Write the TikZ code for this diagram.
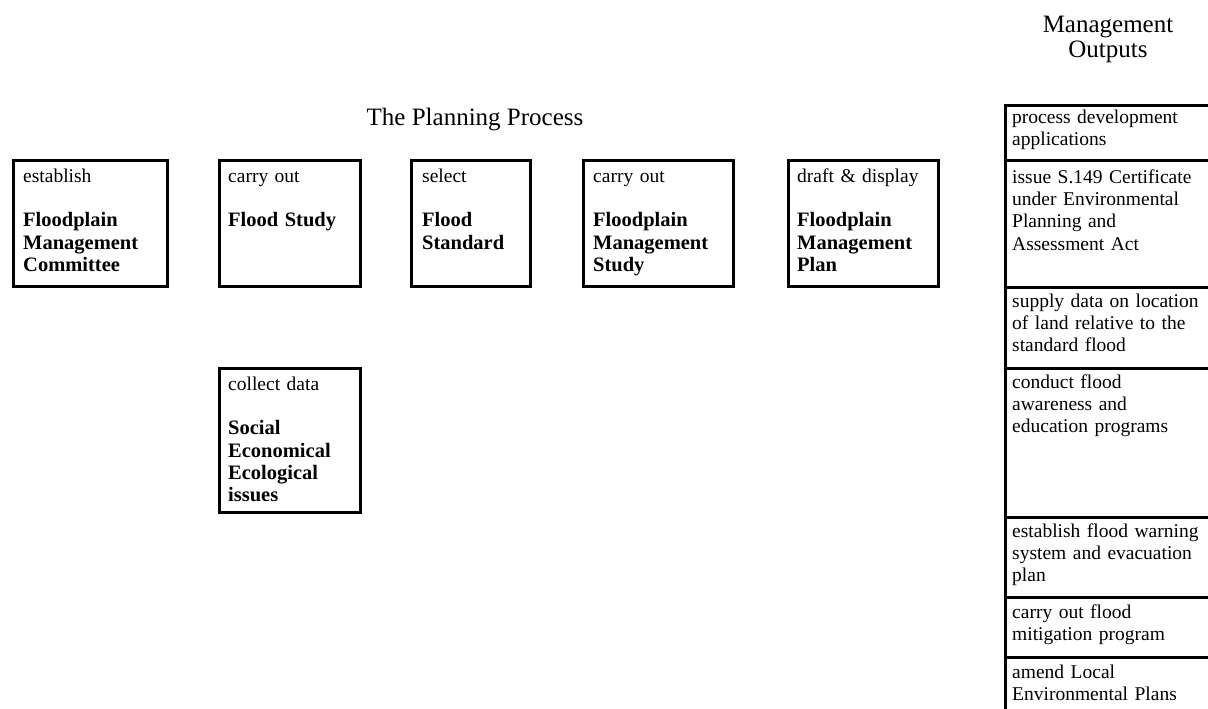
\documentclass[tikz,border=0pt]{standalone}
\usepackage{fontspec}
\setmainfont{Liberation Serif}
\newcommand\bhead[1]{{\fontsize{20.5}{22.3}\selectfont\bfseries #1}}
\begin{document}
\begin{tikzpicture}[x=1pt,y=-1pt,
  box/.style={draw, line width=3.2pt, inner sep=0pt, anchor=north west},
  txt/.style={anchor=north west, inner sep=0pt, text width=220pt, align=left,
              font=\fontsize{19.5}{22.3}\selectfont},
  ttl/.style={inner sep=0pt, align=center, font=\fontsize{25}{25}\selectfont}]
\useasboundingbox (0,0) rectangle (1208,709);

% titles
\node[ttl, anchor=base] (ptitle) at (475,125) {The Planning Process};
\node[ttl, anchor=north] (otitle) at (1108,14.5) {\strut Management\\Outputs};

% planning process boxes
\node[box, minimum width=154pt, minimum height=126pt] (b1) at (11.5,158.5) {};
\node[box, minimum width=141pt, minimum height=126pt] (b2) at (217.5,158.5) {};
\node[box, minimum width=119pt, minimum height=126pt] (b3) at (409.5,158.5) {};
\node[box, minimum width=150pt, minimum height=126pt] (b4) at (581.5,158.5) {};
\node[box, minimum width=150pt, minimum height=126pt] (b5) at (786.5,158.5) {};
\node[box, minimum width=141pt, minimum height=144pt] (b6) at (217.5,366.5) {};

\node[txt] (t1) at (23,166.4) {\strut establish\\[22.3pt]\bhead{Floodplain\\Management\\Committee}};
\node[txt] (t2) at (228,166.4) {\strut carry out\\[22.3pt]\bhead{Flood Study}};
\node[txt] (t3) at (422,166.4) {\strut select\\[22.3pt]\bhead{Flood\\Standard}};
\node[txt] (t4) at (593,166.4) {\strut carry out\\[22.3pt]\bhead{Floodplain\\Management\\Study}};
\node[txt] (t5) at (797,166.4) {\strut draft \& display\\[22.3pt]\bhead{Floodplain\\Management\\Plan}};
\node[txt] (t6) at (228,374.4) {\strut collect data\\[22.3pt]\bhead{Social\\Economical\\Ecological\\issues}};

% management outputs column
\node[box, minimum width=230pt, minimum height=55.5pt] (r1) at (1003.5,103.5) {};
\node[box, minimum width=230pt, minimum height=127pt] (r2) at (1003.5,159) {};
\node[box, minimum width=230pt, minimum height=81pt] (r3) at (1003.5,286) {};
\node[box, minimum width=230pt, minimum height=149pt] (r4) at (1003.5,367) {};
\node[box, minimum width=230pt, minimum height=80pt] (r5) at (1003.5,516) {};
\node[box, minimum width=230pt, minimum height=60pt] (r6) at (1003.5,596) {};
\node[box, minimum width=230pt, minimum height=84pt] (r7) at (1003.5,656) {};

\node[txt] (o1) at (1012,107.4) {\strut process development\\applications};
\node[txt] (o2) at (1012,167.4) {\strut issue S.149 Certificate\\under Environmental\\Planning and\\Assessment Act};
\node[txt] (o3) at (1012,291.4) {\strut supply data on location\\of land relative to the\\standard flood};
\node[txt] (o4) at (1012,372.4) {\strut conduct flood\\awareness and\\education programs};
\node[txt] (o5) at (1012,521.4) {\strut establish flood warning\\system and evacuation\\plan};
\node[txt] (o6) at (1012,602.4) {\strut carry out flood\\mitigation program};
\node[txt] (o7) at (1012,662.4) {\strut amend Local\\Environmental Plans};
\end{tikzpicture}
\end{document}
